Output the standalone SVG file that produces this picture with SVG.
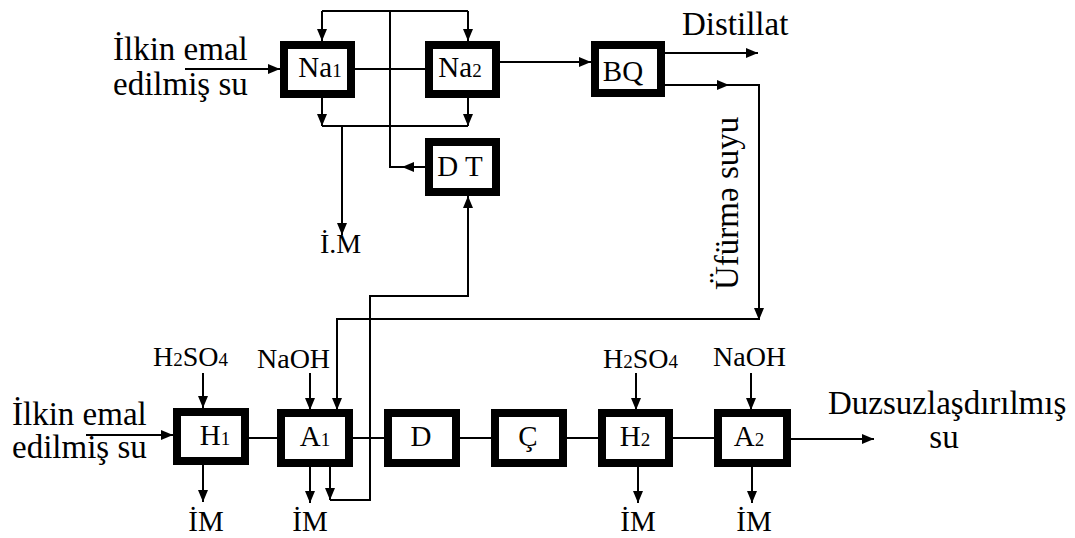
<svg xmlns="http://www.w3.org/2000/svg" width="1075" height="538" viewBox="0 0 1075 538">
<defs>
<marker id="ah" markerUnits="userSpaceOnUse" markerWidth="12" markerHeight="10" refX="12" refY="5" orient="auto">
<path d="M0,0 L12,5 L0,10 z" fill="#000"/>
</marker>
<style>
.box{fill:#fff;stroke:#000;stroke-width:8}
.ln{fill:none;stroke:#000;stroke-width:2}
.ar{marker-end:url(#ah)}
text{font-family:"Liberation Serif","DejaVu Serif",serif;fill:#000}
.lb{font-size:29px;text-anchor:middle}
.sm{font-size:28px}
.big{font-size:33px}
.sub{font-size:19px}
</style>
</defs>
<rect width="1075" height="538" fill="#fff"/>

<g id="connectors">
<path class="ln ar" d="M185,69 H280"/>
<path class="ln" d="M355,69 H425"/>
<path class="ln" d="M322,11 H468"/>
<path class="ln ar" d="M322,11 V41"/>
<path class="ln ar" d="M468,11 V41"/>
<path class="ln ar" d="M425,167 H402"/>
<path class="ln" d="M402,167 H390 V11"/>
<path class="ln ar" d="M322,98 V126"/>
<path class="ln ar" d="M468,98 V126"/>
<path class="ln" d="M322,126 H468"/>
<path class="ln ar" d="M342,126 V235"/>
<path class="ln ar" d="M500,62 H591"/>
<path class="ln ar" d="M665,53 H758"/>
<path class="ln ar" d="M665,85 H729"/>
<path class="ln ar" d="M729,85 H759 V320"/>
<path class="ln ar" d="M759,319 H337 V410"/>
<path class="ln ar" d="M330,462 V500"/>
<path class="ln ar" d="M330,500 H370 V296 H468 V196"/>
<path class="ln ar" d="M86,435 H173"/>
<path class="ln" d="M249,438 H277"/>
<path class="ln" d="M353,438 H384"/>
<path class="ln" d="M460,438 H491"/>
<path class="ln" d="M567,438 H598"/>
<path class="ln" d="M673,438 H714"/>
<path class="ln ar" d="M791,439 H874"/>
<path class="ln ar" d="M203,373 V408"/>
<path class="ln ar" d="M310,373 V410"/>
<path class="ln ar" d="M636,373 V410"/>
<path class="ln ar" d="M751,373 V410"/>
<path class="ln ar" d="M203,465 V502"/>
<path class="ln ar" d="M310,466 V503"/>
<path class="ln ar" d="M638,466 V503"/>
<path class="ln ar" d="M752,466 V503"/>
</g>

<g id="na1"><rect class="box" x="284" y="45" width="67" height="49"/><text class="lb" x="320" y="77">Na<tspan class="sub">1</tspan></text></g>
<g id="na2"><rect class="box" x="429" y="45" width="67" height="49"/><text class="lb" x="460" y="77">Na<tspan class="sub">2</tspan></text></g>
<g id="bq"><rect class="box" x="595" y="45" width="66" height="48"/><text class="lb" x="623" y="81">BQ</text></g>
<g id="dt"><rect class="box" x="429" y="142" width="67" height="50"/><text class="lb" x="460" y="176">D T</text></g>
<g id="h1"><rect class="box" x="177" y="412" width="68" height="49"/><text class="lb" x="215" y="445">H<tspan class="sub">1</tspan></text></g>
<g id="a1"><rect class="box" x="281" y="413" width="68" height="50"/><text class="lb" x="315" y="446">A<tspan class="sub">1</tspan></text></g>
<g id="d"><rect class="box" x="388" y="413" width="68" height="50"/><text class="lb" x="421" y="446">D</text></g>
<g id="c"><rect class="box" x="495" y="413" width="68" height="50"/><text class="lb" x="528" y="446">Ç</text></g>
<g id="h2"><rect class="box" x="602" y="413" width="67" height="50"/><text class="lb" x="635" y="446">H<tspan class="sub">2</tspan></text></g>
<g id="a2"><rect class="box" x="718" y="413" width="69" height="50"/><text class="lb" x="749" y="446">A<tspan class="sub">2</tspan></text></g>

<g id="labels">
<text class="big" x="113" y="60">İlkin emal</text>
<text class="big" x="113" y="95">edilmiş su</text>
<text class="big" x="682" y="35">Distillat</text>
<text class="big" transform="translate(738,290) rotate(-90)">Üfürmə suyu</text>
<text class="sm" x="320" y="253">İ.M</text>
<text class="big" x="12" y="425">İlkin emal</text>
<text class="big" x="12" y="458">edilmiş su</text>
<text class="sm" x="153" y="366">H<tspan class="sub">2</tspan>SO<tspan class="sub">4</tspan></text>
<text class="sm" x="257" y="368">NaOH</text>
<text class="sm" x="603" y="368">H<tspan class="sub">2</tspan>SO<tspan class="sub">4</tspan></text>
<text class="sm" x="713" y="366">NaOH</text>
<text class="big" x="828" y="414">Duzsuzlaşdırılmış</text>
<text class="big" x="944" y="448" text-anchor="middle">su</text>
<text class="lb" x="206" y="531">İM</text>
<text class="lb" x="310" y="531">İM</text>
<text class="lb" x="638" y="531">İM</text>
<text class="lb" x="754" y="531">İM</text>
</g>
</svg>
